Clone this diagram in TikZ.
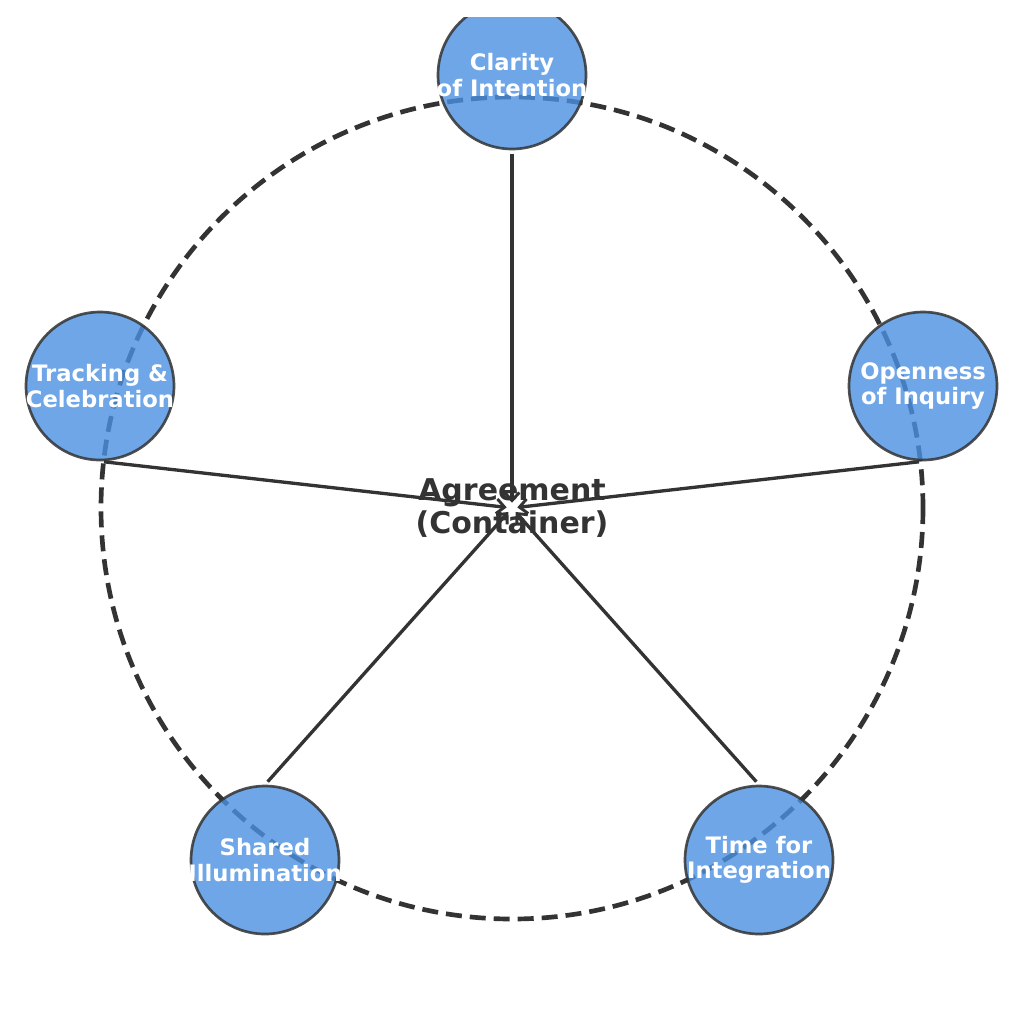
\documentclass[tikz,border=0pt]{standalone}
\usepackage{fontspec}
\setmainfont{DejaVu Sans}
\usetikzlibrary{arrows.meta}
\definecolor{nodeblue}{HTML}{4A90E2}
\definecolor{ink}{HTML}{333333}
\tikzset{
  pillar/.style={circle, minimum size=111pt, inner sep=0pt, fill=nodeblue, draw=ink,
    line width=2pt, fill opacity=0.8, draw opacity=0.85},
  pillartext/.style={text=white, text opacity=1, fill opacity=1, draw opacity=1, align=center, inner sep=0pt,
    font=\bfseries\fontsize{17}{19}\selectfont},
  ring/.style={draw=ink, line width=3.5pt, dash pattern=on 12pt off 6pt},
  link/.style={draw=ink, line width=2.5pt, -{Straight Barb[length=6pt,width=11pt,line width=2.2pt]}, shorten >=4pt, shorten <=3pt},
  hub/.style={text=ink, align=center, font=\bfseries\fontsize{22.5}{24.5}\selectfont, inner sep=0pt}
}
\begin{document}
\begin{tikzpicture}[x=0.75pt,y=-0.75pt]
\useasboundingbox (0,0) rectangle (1024,1018);
\fill[white] (0,0) rectangle (1024,1018);
\coordinate (c) at (512,508);
\draw[ring] (c) circle [radius=411];
\node[hub] (center) at (512,508) {Agreement\\(Container)};
\begin{scope}
\clip (0,17) rectangle (1024,1018);
\node[pillar, label={[pillartext, name=claritytxt]center:{Clarity\\of Intention}}] (clarity) at (512,75) {};
\end{scope}
\node[pillar, label={[pillartext, name=opennesstxt]center:{Openness\\of Inquiry}}] (openness) at (923,386) {};
\node[pillar, label={[pillartext, name=trackingtxt]center:{Tracking \&\\Celebration}}] (tracking) at (100,386) {};
\node[pillar, label={[pillartext, name=sharedtxt]center:{Shared\\Illumination}}] (shared) at (265,860) {};
\node[pillar, label={[pillartext, name=timetxt]center:{Time for\\Integration}}] (time) at (759,860) {};
\draw[link] (clarity.south) -- (c);
\draw[link] (openness.south) -- (c);
\draw[link] (tracking.south) -- (c);
\draw[link] (shared.north) -- (c);
\draw[link] (time.north) -- (c);
\end{tikzpicture}
\end{document}
